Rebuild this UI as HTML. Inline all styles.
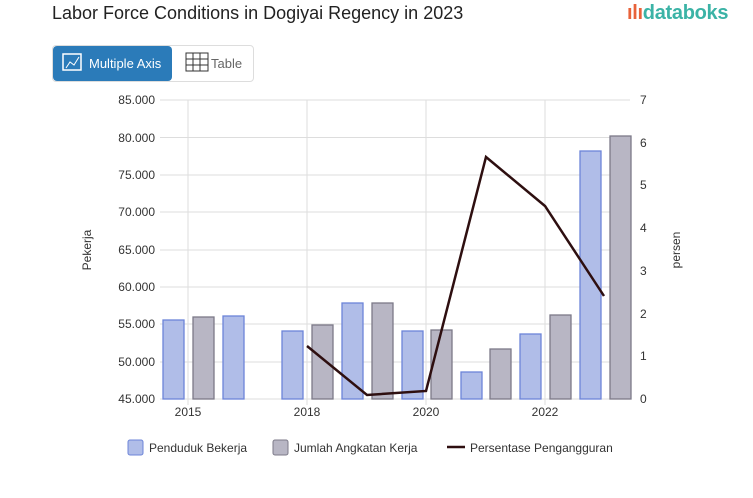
<!DOCTYPE html><html><head><style>
body{margin:0;width:753px;height:498px;background:#fff;font-family:"Liberation Sans",sans-serif;position:relative;overflow:hidden}
.t{position:absolute;left:52px;top:3px;font-size:18px;color:#222}
.logo{position:absolute;left:627px;top:2px;font-size:20px;font-weight:bold;color:#3bb3a6;letter-spacing:-0.3px}
.btns{position:absolute;left:52px;top:45px;width:200px;height:35px;border:1px solid #ddd;border-radius:4px}
.b1{position:absolute;left:0;top:0;width:119px;height:35px;background:#2b7bb9;border-radius:4px;color:#fff;font-size:13px;line-height:35px;text-indent:36px}
.b2{position:absolute;left:158px;top:0;color:#666;font-size:13px;line-height:35px}
svg{position:absolute;left:0;top:0}
</style></head><body>
<div class="t">Labor Force Conditions in Dogiyai Regency in 2023</div>
<div class="logo"><span style="color:#e8623a">ılı</span>databoks</div>
<div class="btns"><div class="b1">Multiple Axis</div><div class="b2">Table</div></div>
<svg width="753" height="498" font-family="Liberation Sans" font-size="12" fill="#333">
<rect x="63" y="54" width="18" height="16" fill="none" stroke="#fff" stroke-width="1.5"/>
<path d="M66 68 L70 62 L74 65 L79 57" stroke="#fff" fill="none"/>
<g stroke="#333" fill="none"><rect x="186" y="53" width="22" height="18"/><path d="M193 53v18M200 53v18M186 59h22M186 65h22"/></g>
<g stroke="#ddd">
<line x1="160" x2="630" y1="100" y2="100"/><line x1="160" x2="630" y1="137.5" y2="137.5"/><line x1="160" x2="630" y1="175" y2="175"/><line x1="160" x2="630" y1="212" y2="212"/><line x1="160" x2="630" y1="250" y2="250"/><line x1="160" x2="630" y1="287" y2="287"/><line x1="160" x2="630" y1="324" y2="324"/><line x1="160" x2="630" y1="362" y2="362"/><line x1="160" x2="630" y1="399" y2="399"/>
<line x1="188" x2="188" y1="100" y2="405"/><line x1="307" x2="307" y1="100" y2="405"/><line x1="426" x2="426" y1="100" y2="405"/><line x1="545" x2="545" y1="100" y2="405"/>
</g>
<g fill="#b0bde8" stroke="#6c84d8" stroke-width="1.3">
<rect x="163" y="320" width="21" height="79"/><rect x="223" y="316" width="21" height="83"/><rect x="282" y="331" width="21" height="68"/><rect x="342" y="303" width="21" height="96"/><rect x="402" y="331" width="21" height="68"/><rect x="461" y="372" width="21" height="27"/><rect x="520" y="334" width="21" height="65"/><rect x="580" y="151" width="21" height="248"/>
</g>
<g fill="#b8b6c4" stroke="#7c7a88" stroke-width="1.3">
<rect x="193" y="317" width="21" height="82"/><rect x="312" y="325" width="21" height="74"/><rect x="372" y="303" width="21" height="96"/><rect x="431" y="330" width="21" height="69"/><rect x="490" y="349" width="21" height="50"/><rect x="550" y="315" width="21" height="84"/><rect x="610" y="136" width="21" height="263"/>
</g>
<polyline points="307,346 367,395 426,391 486,157 545,206 604,296" fill="none" stroke="#2e0f10" stroke-width="2.5"/>
<g text-anchor="end">
<text x="155" y="104">85.000</text><text x="155" y="142">80.000</text><text x="155" y="179">75.000</text><text x="155" y="216">70.000</text><text x="155" y="254">65.000</text><text x="155" y="291">60.000</text><text x="155" y="328">55.000</text><text x="155" y="366">50.000</text><text x="155" y="403">45.000</text>
</g>
<g><text x="640" y="104">7</text><text x="640" y="147">6</text><text x="640" y="189">5</text><text x="640" y="232">4</text><text x="640" y="275">3</text><text x="640" y="318">2</text><text x="640" y="360">1</text><text x="640" y="403">0</text></g>
<g text-anchor="middle"><text x="188" y="416">2015</text><text x="307" y="416">2018</text><text x="426" y="416">2020</text><text x="545" y="416">2022</text></g>
<text transform="translate(91,250) rotate(-90)" text-anchor="middle">Pekerja</text>
<text transform="translate(680,250) rotate(-90)" text-anchor="middle">persen</text>
<rect x="128" y="440" width="15" height="15" rx="2" fill="#b0bde8" stroke="#6c84d8"/><text x="149" y="452">Penduduk Bekerja</text>
<rect x="273" y="440" width="15" height="15" rx="2" fill="#b8b6c4" stroke="#7c7a88"/><text x="294" y="452">Jumlah Angkatan Kerja</text>
<line x1="447" x2="465" y1="447" y2="447" stroke="#2e0f10" stroke-width="2.5"/><text x="470" y="452">Persentase Pengangguran</text>
</svg>
</body></html>
